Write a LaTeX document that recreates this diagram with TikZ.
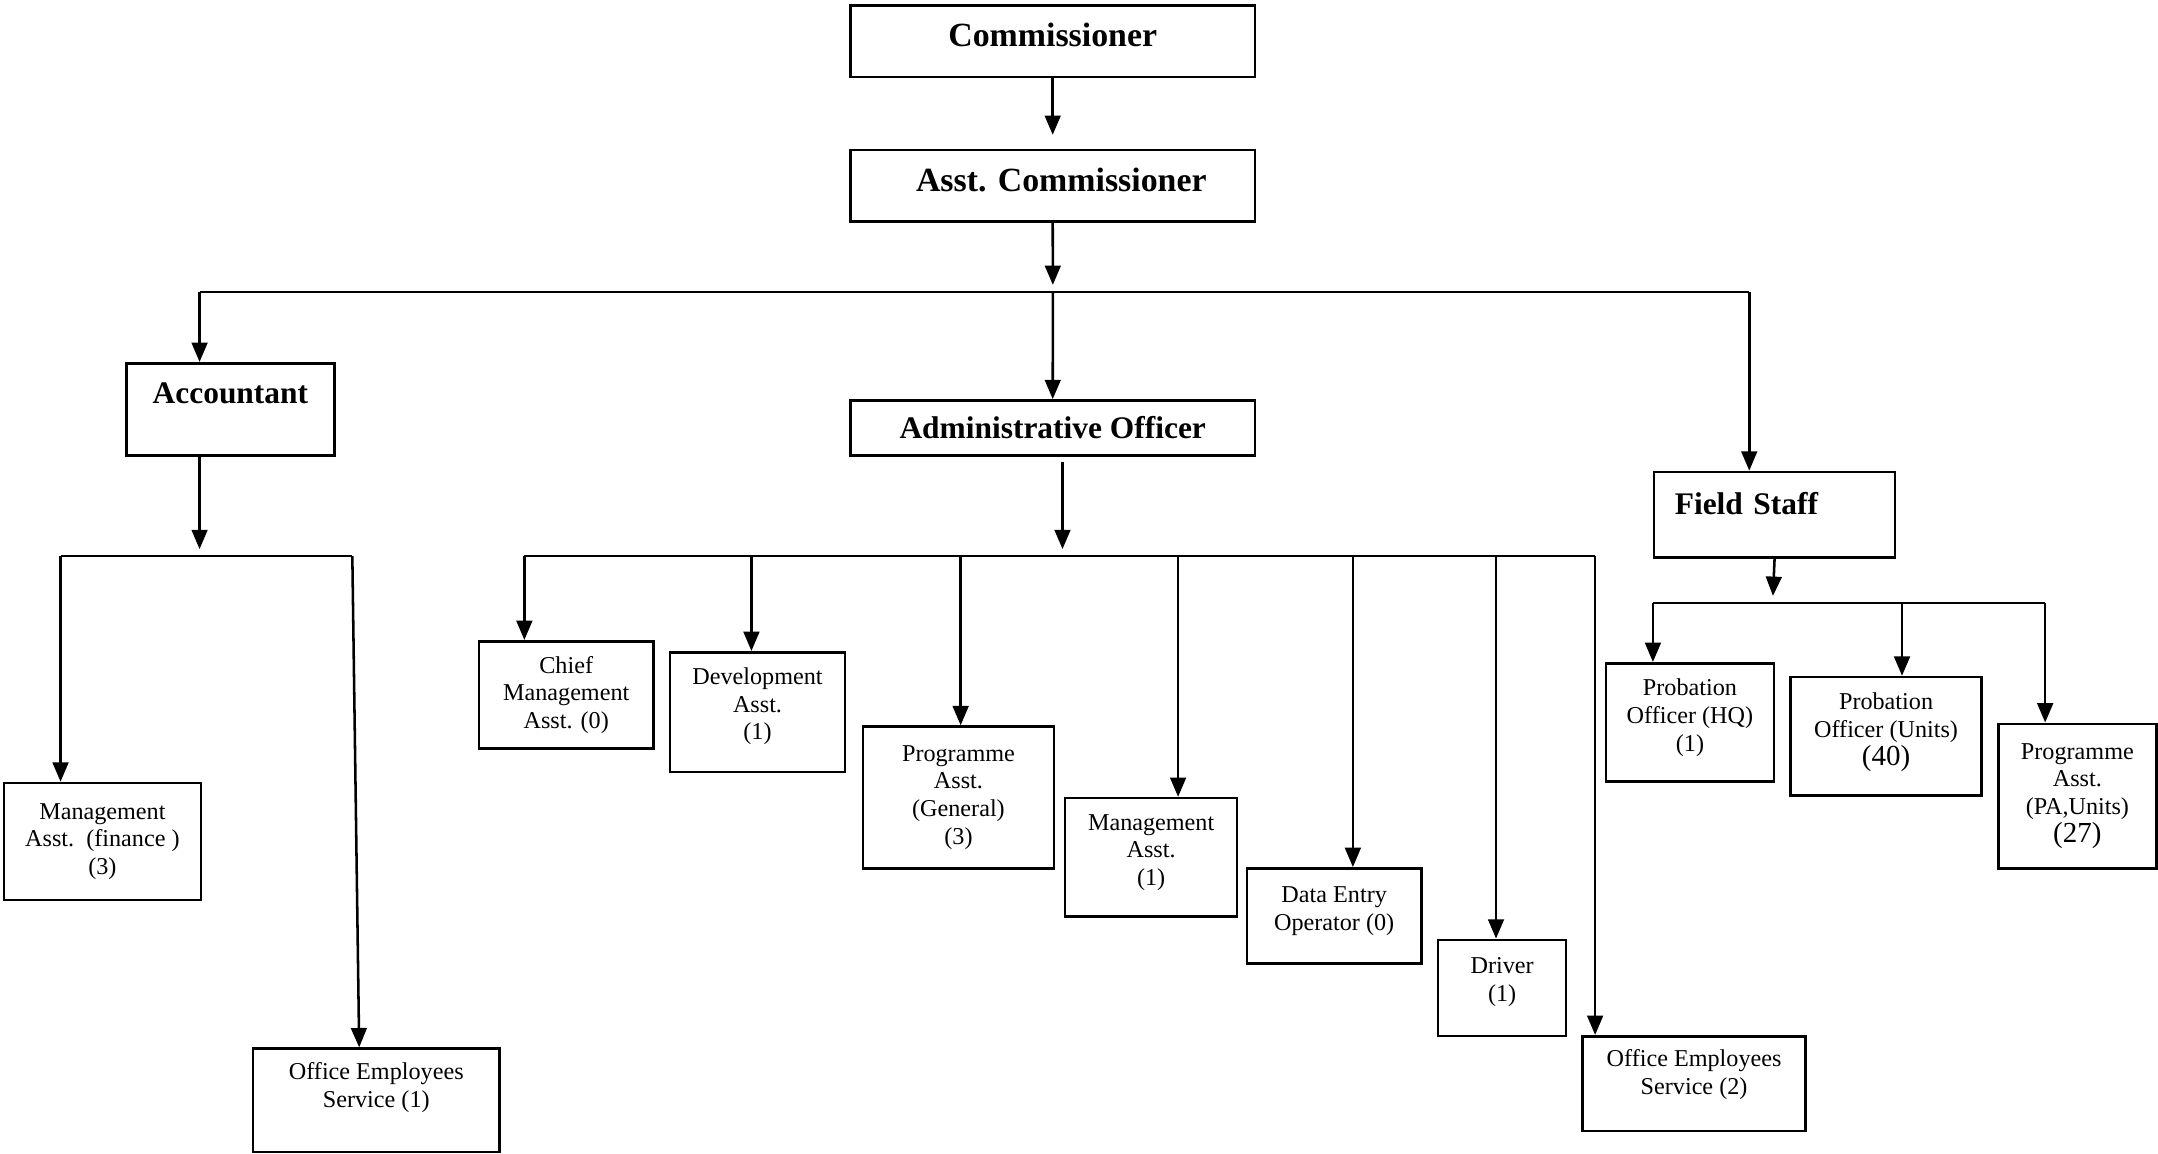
\documentclass[tikz,border=0pt]{standalone}
\usepackage{fontspec}
\setmainfont{Liberation Serif}
\usetikzlibrary{arrows.meta}

\begin{document}
\begin{tikzpicture}[x=0.02cm,y=-0.02cm]
        \tikzstyle{every node}+=[inner sep=0pt]
        \tikzstyle{box}=[draw=black, line width=1.05pt, anchor=north west, align=center, font=\fontsize{10}{11.5}\selectfont]
        \tikzstyle{toprole}=[box, font=\fontsize{14}{16}\selectfont\bfseries, text depth=5pt]
        \tikzstyle{midrole}=[box, font=\fontsize{13}{15}\selectfont\bfseries]
        \tikzstyle{wire}=[black, line width=1.05pt]
        \tikzstyle{arr}=[wire, -{Triangle[length=8pt,width=6.5pt]}]
        \useasboundingbox (0,0) rectangle (1568,838);
        \node[toprole, minimum width=5.88cm, minimum height=1.04cm] (comm) at (617,3) {Commissioner};
        \node[toprole, minimum width=5.88cm, minimum height=1.04cm] (acomm) at (617,108) {\hspace*{0.25cm}Asst. Commissioner};
        \node[midrole, minimum width=3.02cm, minimum height=1.34cm, text depth=13pt] (acct) at (91,263) {Accountant};
        \node[midrole, minimum width=5.88cm, minimum height=0.80cm] (admin) at (617,290) {Administrative Officer};
        \node[midrole, minimum width=3.5cm, minimum height=1.24cm, text width=2.9cm, inner xsep=0.3cm, align=left, text depth=9pt] (field) at (1201,342) {Field Staff};
        \node[box, minimum width=2.86cm, minimum height=1.70cm] (mafin) at (2,568) {Management\\Asst.\ \ (finance )\\(3)};
        \node[box, minimum width=3.58cm, minimum height=1.50cm, text depth=12.5pt] (oesa) at (183,761) {Office Employees\\Service (1)};
        \node[box, minimum width=2.54cm, minimum height=1.56cm] (cma) at (347,465) {Chief\\Management\\Asst. (0)};
        \node[box, minimum width=2.54cm, minimum height=1.74cm, text depth=7pt] (dev) at (486,473) {Development\\Asst.\\(1)};
        \node[box, minimum width=2.78cm, minimum height=2.06cm] (pag) at (626,527) {Programme\\Asst.\\(General)\\(3)};
        \node[box, minimum width=2.50cm, minimum height=1.72cm, text depth=6pt] (ma) at (773,579) {Management\\Asst.\\(1)};
        \node[box, minimum width=2.54cm, minimum height=1.38cm, text depth=6pt] (deo) at (905,630) {Data Entry\\Operator (0)};
        \node[box, minimum width=1.86cm, minimum height=1.40cm, text depth=7pt] (drv) at (1044,682) {Driver\\(1)};
        \node[box, minimum width=3.24cm, minimum height=1.38cm, text depth=9.5pt] (oesb) at (1149,752) {Office Employees\\Service (2)};
        \node[box, minimum width=2.44cm, minimum height=1.72cm, text depth=6pt] (pohq) at (1166,481) {Probation\\Officer (HQ)\\(1)};
        \node[box, minimum width=2.78cm, minimum height=1.72cm, text depth=6pt] (pou) at (1300,491) {Probation\\Officer (Units)\\{\fontsize{12}{13}\selectfont (40)}};
        \node[box, minimum width=2.30cm, minimum height=2.10cm] (pau) at (1451,525) {Programme\\Asst.\\(PA,Units)\\{\fontsize{12}{13}\selectfont (27)}};
        \coordinate (bA) at (765,212);
        \coordinate (bAl) at (145,212);
        \coordinate (bAr) at (1271,212);
        \coordinate (bB) at (145,404);
        \coordinate (bBl) at (44,404);
        \coordinate (bBr) at (256,404);
        \coordinate (bC) at (772,404);
        \coordinate (bCl) at (381,404);
        \coordinate (bCr) at (1159,404);
        \coordinate (bD) at (1288,438);
        \coordinate (bDl) at (1201,438);
        \coordinate (bDr) at (1486,438);
        \draw[arr, shorten >=0.2cm] (comm.south) -- (acomm.north);
        \draw[arr, shorten >=0.1cm] (acomm.south) -- (bA);
        \draw[wire] (bAl) -- (bAr);
        \draw[arr] (bAl) -- (bAl |- acct.north);
        \draw[arr] (bA) -- (admin.north);
        \draw[arr] (bAr) -- (bAr |- field.north);
        \draw[arr, shorten >=0.1cm] (bB |- acct.south) -- (bB);
        \draw[wire] (bBl) -- (bBr);
        \draw[arr] (bBl) -- (bBl |- mafin.north);
        \draw[arr] (bBr) -- ([xshift=1.56cm]oesa.north west);
        \draw[arr, shorten <=0.08cm, shorten >=0.1cm] (bC |- admin.south) -- (bC);
        \draw[wire] (bCl) -- (bCr);
        \foreach \x/\n in {381/cma,546/dev,698/pag,856/ma,983/deo,1087/drv,1159/oesb}
          \draw[arr] (\x,404) -- (\x,404 |- \n.north);
        \draw[arr, shorten >=0.1cm] (field.south) -- (bD);
        \draw[wire] (bDl) -- (bDr);
        \foreach \x/\n in {1201/pohq,1382/pou,1486/pau}
          \draw[arr] (\x,438) -- (\x,438 |- \n.north);
      \end{tikzpicture}
\end{document}
